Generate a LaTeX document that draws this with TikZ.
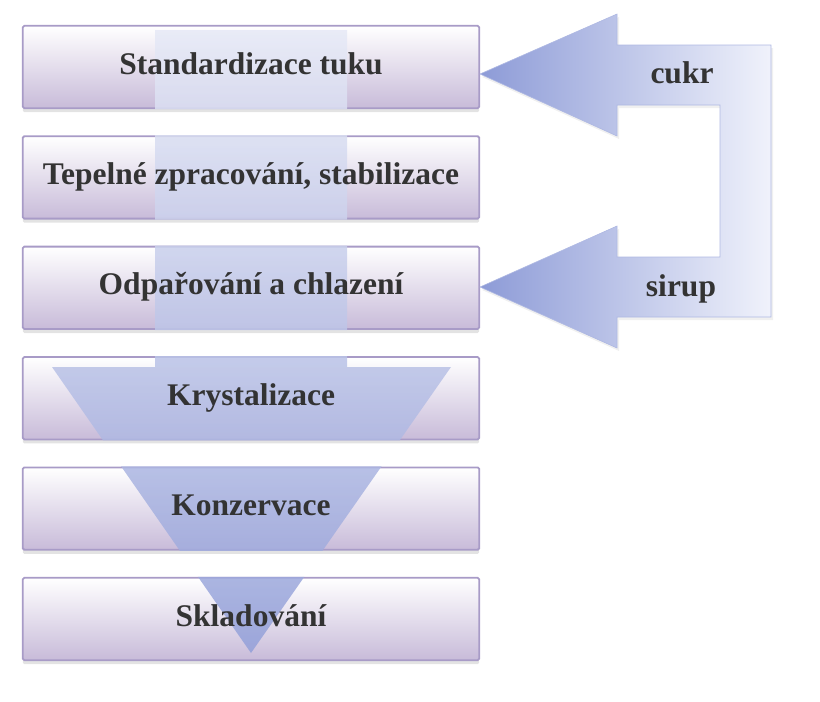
\documentclass[tikz,border=0pt]{standalone}
\usepackage{fontspec}
\setmainfont{Liberation Serif}
\usetikzlibrary{positioning, shadows}
\definecolor{boxline}{HTML}{A89BC7}
\definecolor{boxlav}{HTML}{C8BBD9}
\definecolor{flowblue}{HTML}{8D9BD7}
\definecolor{flowpale}{HTML}{F0F2FB}
\definecolor{labelgray}{HTML}{333333}
\pgfdeclarelayer{back}
\pgfdeclarelayer{mid}
\pgfsetlayers{back,mid,main}

\begin{document}
\begin{tikzpicture}[x=1pt, y=1pt]
	\tikzstyle{stepbox} = [rectangle, minimum width=456pt, minimum height=82pt, inner sep=0pt, text height=21pt, text depth=7pt, text=labelgray, font=\fontsize{31.5}{36}\selectfont\bfseries]
	\tikzstyle{boxfill} = [draw=boxline, line width=1.8pt, rounded corners=1.5pt, top color=white, middle color=white!85!boxlav, bottom color=boxlav, drop shadow={opacity=0.22, shadow xshift=0pt, shadow yshift=-4pt}]
	\tikzstyle{sidetext} = [inner sep=0pt, text=labelgray, font=\fontsize{31.5}{36}\selectfont\bfseries]
	
	\useasboundingbox (0,0) rectangle (820,-702);
	
	\node [stepbox] (tuk) at (251,-67) {Standardizace tuku};
	\node [stepbox, below=28pt of tuk] (tepl) {Tepelné zpracování, stabilizace};
	\node [stepbox, below=28pt of tepl] (odpar) {Odpařování a chlazení};
	\node [stepbox, below=28pt of odpar] (kryst) {Krystalizace};
	\node [stepbox, below=28pt of kryst] (konz) {Konzervace};
	\node [stepbox, below=28pt of konz] (sklad) {Skladování};
	
	\node [sidetext] (cukr) at (682,-73) {cukr};
	\node [sidetext] (sirup) at (681,-289) {sirup};
	
	\begin{pgfonlayer}{back}
		\foreach \n in {tuk, tepl, odpar, kryst, konz, sklad}
			\path [boxfill] (\n.south west) rectangle (\n.north east);
	\end{pgfonlayer}
	
	\begin{pgfonlayer}{mid}
		% big arrow down, seen only inside the steps
		\begin{scope}
			\clip \foreach \n in {tuk, tepl, odpar, kryst, konz, sklad} {([shift={(-1,-1)}]\n.south west) rectangle ([shift={(1,1)}]\n.north east)};
			\shade [top color=flowblue!22, bottom color=flowblue!95, fill opacity=0.85]
				(155,-30) -- (347,-30) -- (347,-367) -- (451,-367) -- (251,-653) -- (52,-367) -- (155,-367) -- cycle;
		\end{scope}
		% return loop: sirup back, cukr in
		\shade [left color=flowblue, right color=flowpale, draw=flowblue!70, line width=0.6pt, drop shadow={opacity=0.12, shadow xshift=2pt, shadow yshift=-3pt}]
			(480,-74) -- (617,-14) -- (617,-45) -- (771,-45) -- (771,-317) -- (617,-317) -- (617,-348) -- (480,-287)
			-- (617,-226) -- (617,-257) -- (720,-257) -- (720,-105) -- (617,-105) -- (617,-136) -- cycle;
	\end{pgfonlayer}
\end{tikzpicture}
\end{document}
